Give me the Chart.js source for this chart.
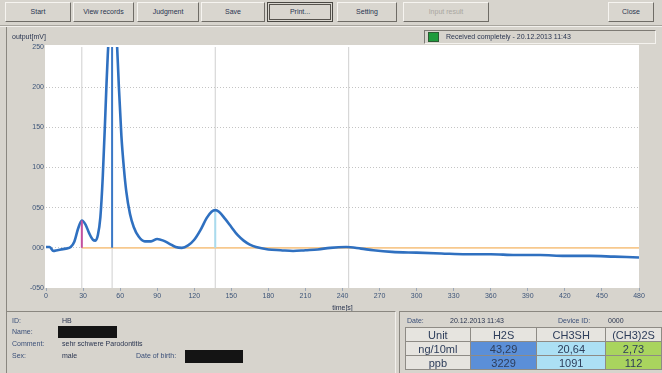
<!DOCTYPE html>
<html>
<head>
<meta charset="utf-8">
<script src="https://cdn.jsdelivr.net/npm/chart.js@4/dist/chart.umd.min.js"></script>
<style>
html, body { margin: 0; padding: 0; }
body {
  width: 662px; height: 373px; position: relative; overflow: hidden;
  background: #d7d4cd; font-family: "Liberation Sans", Arial, sans-serif;
  font-size: 7px; color: #2d3a55;
}
.abs { position: absolute; }
.btn {
  position: absolute; top: 2px; height: 20px; box-sizing: border-box;
  border: 1px solid; border-color: #f6f4f0 #6f6c66 #6f6c66 #f6f4f0;
  background: #d9d6cf; text-align: center; line-height: 18px;
  font-size: 7px; color: #2a3550;
}
.btn.focus { outline: 1px solid #55524c; outline-offset: -3px; border-color: #4a4843; }
.btn.off { color: #a9a6a0; }
#chartBox { position: absolute; left: 0; top: 26px; width: 662px; height: 286px; }
#status {
  position: absolute; left: 424px; top: 30px; width: 232px; height: 14px; box-sizing: border-box;
  border: 1px solid; border-color: #7d7a74 #f4f2ee #f4f2ee #7d7a74;
}
#status .led { position: absolute; left: 3px; top: 1px; width: 11px; height: 10px; background: #1f9b3c; box-sizing: border-box; border: 1px solid #2c5a33; }
#status .txt { position: absolute; left: 21px; top: 2px; font-size: 7px; color: #2a3550; white-space: nowrap; }
.lbl { position: absolute; font-size: 7px; color: #3a4f78; white-space: nowrap; }
.val { position: absolute; font-size: 7px; color: #2a3550; white-space: nowrap; }
.redact { position: absolute; background: #141414; }
#results { position: absolute; left: 405px; top: 327px; border-collapse: collapse; font-size: 11px; color: #2d3d5a; }
#results td { border: 1px solid #8e8b85; height: 13px; padding: 0; text-align: center; line-height: 12px; }
#results td.head { background: #e6e4df; }
#results td.c0 { background: #5b8fd8; }
#results td.c1 { background: #ace0f4; }
#results td.c2 { background: #a9d45e; }
</style>
</head>
<body>

<div class="btn" style="left:5px;width:66px;">Start</div>
<div class="btn" style="left:73px;width:61px;">View records</div>
<div class="btn" style="left:137px;width:62px;">Judgment</div>
<div class="btn" style="left:201px;width:64px;">Save</div>
<div class="btn focus" style="left:267px;width:66px;">Print...</div>
<div class="btn" style="left:337px;width:60px;">Setting</div>
<div class="btn off" style="left:403px;width:86px;">Input result</div>
<div class="btn" style="left:608px;width:46px;">Close</div>

<div class="abs" style="left:0;top:25px;width:662px;height:0;border-top:1px solid #a8a59e;border-bottom:1px solid #f2f0ec;"></div>

<div id="chartBox"><canvas id="chart" width="662" height="286"></canvas></div>

<div class="abs" style="left:6px;top:27px;width:0;height:285px;border-left:1px solid #8a8780;"></div>
<div class="lbl" style="left:12px;top:33px;color:#2a3550;">output[mV]</div>

<div id="status"><div class="led"></div><div class="txt">Received completely - 20.12.2013 11:43</div></div>

<!-- lower information panels -->
<div class="abs" style="left:6px;top:311px;width:390px;height:62px;box-sizing:border-box;border-top:1px solid #8a8780;border-left:1px solid #8a8780;border-right:1px solid #f2f0ec;"></div>
<div class="abs" style="left:399px;top:311px;width:263px;height:62px;box-sizing:border-box;border-top:1px solid #8a8780;border-left:1px solid #8a8780;"></div>

<div class="lbl" style="left:12px;top:317px;">ID:</div>
<div class="val" style="left:62px;top:317px;">HB</div>
<div class="lbl" style="left:12px;top:328px;">Name:</div>
<div class="redact" style="left:58px;top:326px;width:59px;height:12px;"></div>
<div class="lbl" style="left:12px;top:340px;">Comment:</div>
<div class="val" style="left:62px;top:340px;">sehr schwere Parodontitis</div>
<div class="lbl" style="left:12px;top:352px;">Sex:</div>
<div class="val" style="left:62px;top:352px;">male</div>
<div class="lbl" style="left:136px;top:352px;">Date of birth:</div>
<div class="redact" style="left:185px;top:350px;width:58px;height:13px;"></div>

<div class="lbl" style="left:407px;top:317px;">Date:</div>
<div class="val" style="left:450px;top:317px;">20.12.2013 11:43</div>
<div class="lbl" style="left:558px;top:317px;">Device ID:</div>
<div class="val" style="left:608px;top:317px;">0000</div>

<table id="results"></table>

<script>
// Measured signal
const timeS = [0, 3, 6, 9, 12, 16, 20, 23, 26, 29, 32, 35, 38, 40, 42, 44, 46, 48, 49, 50, 52, 53.5,
  55, 57, 59, 61, 63, 65, 68, 71, 75, 80, 85, 90, 95, 100, 105, 110, 115, 120, 125, 130, 134,
  137, 140, 145, 150, 155, 160, 165, 170, 180, 190, 200, 210, 220, 230, 243, 255, 265, 280,
  300, 320, 340, 360, 380, 400, 420, 440, 460, 480];
const outputMv = [1, 1, -4, -3, -2, -1, 1, 8, 24, 34, 29, 18, 10, 9, 16, 38, 90, 165, 205, 240, 300, 330,
  315, 270, 200, 140, 100, 70, 42, 26, 14, 8, 8, 11, 9, 5, 1, 0, 3, 10, 22, 37, 45,
  47, 45, 36, 26, 16, 9, 4, 1, -2, -3, -4, -3, -2, 0, 1, -1, -3, -5,
  -6, -7, -8, -8, -9, -9, -10, -10, -11, -12];

// Detected peaks (retention time, height) and evaluation markers
const peakTimes = [29, 53.5, 137];
const peakHeights = [34, 330, 47];
const markerTimes = [29, 53.5, 137, 245];
const baselineFrom = 29;
const baselineTo = 480;
const baselineLevel = 0;

// Axis ticks
const xTickValues = [0, 30, 60, 90, 120, 150, 180, 210, 240, 270, 300, 330, 360, 390, 420, 450, 480];
const xTickLabels = ['0', '30', '60', '90', '120', '150', '180', '210', '240', '270', '300', '330', '360', '390', '420', '450', '480'];
const yTickValues = [-50, 0, 50, 100, 150, 200, 250];
const yTickLabels = ['-050', '000', '050', '100', '150', '200', '250'];

// Result table
const compounds = ['H2S', 'CH3SH', '(CH3)2S'];
const concNg10ml = ['43,29', '20,64', '2,73'];
const concPpb = ['3229', '1091', '112'];

(function buildTable() {
  const t = document.getElementById('results');
  const widths = [64, 66, 68, 55];
  const rows = [['Unit'].concat(compounds), ['ng/10ml'].concat(concNg10ml), ['ppb'].concat(concPpb)];
  rows.forEach((r, ri) => {
    const tr = document.createElement('tr');
    r.forEach((txt, ci) => {
      const td = document.createElement('td');
      td.textContent = txt;
      td.style.width = widths[ci] + 'px';
      td.className = (ri === 0 || ci === 0) ? 'head' : 'c' + (ci - 1);
      tr.appendChild(td);
    });
    t.appendChild(tr);
  });
})();

const peakLineColors = ['#c24f9e', '#3a78c6', '#a9dbee'];

const datasets = [];
datasets.push({
  data: timeS.map((t, i) => ({ x: t, y: outputMv[i] })),
  borderColor: '#2f70c0', borderWidth: 2.6, pointRadius: 0,
  cubicInterpolationMode: 'monotone', order: 1
});
peakTimes.forEach((t, i) => {
  datasets.push({
    data: [{ x: t, y: baselineLevel }, { x: t, y: peakHeights[i] }],
    borderColor: peakLineColors[i], borderWidth: 2, pointRadius: 0, order: i === 0 ? 0 : 2
  });
});
datasets.push({
  data: [{ x: baselineFrom, y: baselineLevel }, { x: baselineTo, y: baselineLevel }],
  borderColor: '#f7c98e', borderWidth: 1.6, pointRadius: 0, order: 3
});
markerTimes.forEach(t => {
  datasets.push({
    data: [{ x: t, y: -50 }, { x: t, y: 250 }],
    borderColor: '#cfcfcf', borderWidth: 1, pointRadius: 0, order: 4
  });
});

const plotBackground = {
  id: 'plotBackground',
  beforeDraw(chart) {
    const a = chart.chartArea, c = chart.ctx;
    c.save();
    c.fillStyle = '#ffffff';
    c.fillRect(a.left - 1, a.top - 2, a.right - a.left + 1, a.bottom - a.top + 2);
    c.restore();
  }
};

new Chart(document.getElementById('chart'), {
  type: 'line',
  data: { datasets },
  plugins: [plotBackground],
  options: {
    responsive: false, animation: false,
    layout: { padding: { top: 21, right: 23, left: 0, bottom: 0 } },
    plugins: { legend: { display: false }, tooltip: { enabled: false } },
    scales: {
      x: {
        type: 'linear', min: 0, max: 480,
        afterBuildTicks: s => { s.ticks = xTickValues.map(v => ({ value: v })); },
        afterFit: s => { s.height = 24; },
        ticks: {
          autoSkip: false, maxRotation: 0, padding: 1,
          font: { family: 'Liberation Sans', size: 7 }, color: '#3c5478',
          callback: v => xTickLabels[xTickValues.indexOf(v)]
        },
        grid: { drawOnChartArea: false, tickLength: 3, color: '#9aa6b6' },
        border: { display: false },
        title: { display: true, text: 'time[s]', padding: { top: 0, bottom: 0 },
          font: { family: 'Liberation Sans', size: 7 }, color: '#2a3550' }
      },
      y: {
        min: -50, max: 250,
        afterBuildTicks: s => { s.ticks = yTickValues.map(v => ({ value: v })); },
        afterFit: s => { s.width = 46; },
        ticks: {
          padding: 2, font: { family: 'Liberation Sans', size: 7 }, color: '#3c5478',
          callback: v => yTickLabels[yTickValues.indexOf(v)]
        },
        grid: {
          color: c => (c.tick && (c.tick.value === -50 || c.tick.value === 250)) ? 'rgba(0,0,0,0)' : '#c4c4c4',
          lineWidth: 1, drawTicks: false
        },
        border: { display: false, dash: [1, 2] }
      }
    }
  }
});
</script>
</body>
</html>
